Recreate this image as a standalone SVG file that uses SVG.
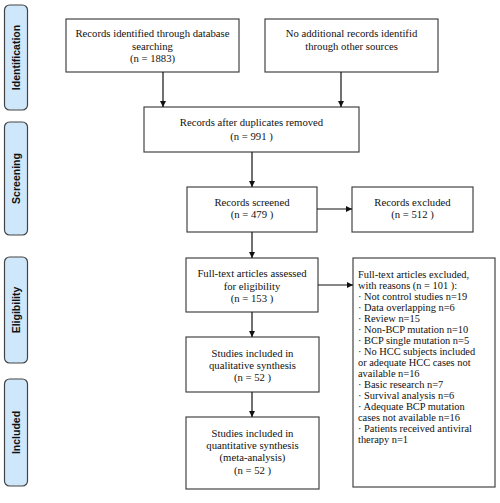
<svg xmlns="http://www.w3.org/2000/svg" width="500" height="503" viewBox="0 0 500 503">
<defs>
<marker id="ah" viewBox="0 0 10 10" refX="10" refY="5" markerWidth="6" markerHeight="6" markerUnits="userSpaceOnUse" orient="auto">
<path d="M0,0 L10,5 L0,10 z" fill="#111"/>
</marker>
<style>
.box{fill:#fff;stroke:#444;stroke-width:1.2}
.side{fill:#cfe7fb;stroke:#444;stroke-width:1.2}
.t{font-family:"Liberation Serif","Times New Roman",serif;font-size:10.7px;fill:#111;text-anchor:middle}
.l{font-family:"Liberation Serif","Times New Roman",serif;font-size:10.4px;fill:#111}
.s{font-family:"Liberation Sans",Arial,sans-serif;font-size:10.5px;font-weight:bold;fill:#111;text-anchor:middle}
.c{stroke:#111;stroke-width:1.2;fill:none;marker-end:url(#ah)}
</style>
</defs>
<rect width="500" height="503" fill="#fff"/>
<g id="side-identification"><rect class="side" x="4.5" y="5" width="23" height="105" rx="5"/><text class="s" transform="translate(20,57.5) rotate(-90)">Identification</text></g>
<g id="side-screening"><rect class="side" x="4.5" y="122" width="23" height="113" rx="5"/><text class="s" transform="translate(20,178.5) rotate(-90)">Screening</text></g>
<g id="side-eligibility"><rect class="side" x="4.5" y="257" width="23" height="106" rx="5"/><text class="s" transform="translate(20,310) rotate(-90)">Eligibility</text></g>
<g id="side-included"><rect class="side" x="4.5" y="379" width="23" height="107" rx="5"/><text class="s" transform="translate(20,432.5) rotate(-90)">Included</text></g>

<g id="n-identified"><rect class="box" x="66" y="19" width="173" height="53"/>
<text class="t" x="152.5" y="37">Records identified through database</text>
<text class="t" x="152.5" y="49.5">searching</text>
<text class="t" x="152.5" y="62">(n = 1883)</text></g>
<g id="n-other"><rect class="box" x="265" y="19" width="173" height="53"/>
<text class="t" x="351.5" y="37">No additional records identifid</text>
<text class="t" x="351.5" y="49.5">through other sources</text></g>
<g id="n-dup"><rect class="box" x="144" y="107" width="215" height="45"/>
<text class="t" x="251.5" y="126">Records after duplicates removed</text>
<text class="t" x="251.5" y="140">(n = 991 )</text></g>
<g id="n-screened"><rect class="box" x="187" y="187" width="130" height="45"/>
<text class="t" x="252" y="206">Records screened</text>
<text class="t" x="252" y="218">(n = 479 )</text></g>
<g id="n-excluded"><rect class="box" x="352" y="187" width="121" height="45"/>
<text class="t" x="412.5" y="206">Records excluded</text>
<text class="t" x="412.5" y="218">(n = 512 )</text></g>
<g id="n-fulltext"><rect class="box" x="186" y="258" width="132" height="54"/>
<text class="t" x="252" y="277">Full-text articles assessed</text>
<text class="t" x="252" y="289.5">for eligibility</text>
<text class="t" x="252" y="302">(n = 153 )</text></g>
<g id="n-ftexcluded"><rect class="box" x="353" y="258" width="142" height="229"/>
<text class="l" x="358" y="278">Full-text articles excluded,</text>
<text class="l" x="358" y="289">with reasons (n = 101 ):</text>
<text class="l" x="358" y="300">· Not control studies n=19</text>
<text class="l" x="358" y="311">· Data overlapping n=6</text>
<text class="l" x="358" y="322">· Review n=15</text>
<text class="l" x="358" y="333">· Non-BCP mutation n=10</text>
<text class="l" x="358" y="344">· BCP single mutation n=5</text>
<text class="l" x="358" y="355">· No HCC subjects included</text>
<text class="l" x="358" y="366">or adequate HCC cases not</text>
<text class="l" x="358" y="377">available n=16</text>
<text class="l" x="358" y="388">· Basic research n=7</text>
<text class="l" x="358" y="399">· Survival analysis n=6</text>
<text class="l" x="358" y="410">· Adequate BCP mutation</text>
<text class="l" x="358" y="421">cases not available n=16</text>
<text class="l" x="358" y="432">· Patients received antiviral</text>
<text class="l" x="358" y="443">therapy n=1</text></g>
<g id="n-qual"><rect class="box" x="186" y="337" width="133" height="55"/>
<text class="t" x="252.5" y="357">Studies included in</text>
<text class="t" x="252.5" y="369">qualitative synthesis</text>
<text class="t" x="252.5" y="381">(n = 52  )</text></g>
<g id="n-quant"><rect class="box" x="186" y="417" width="133" height="72"/>
<text class="t" x="252.5" y="437">Studies included in</text>
<text class="t" x="252.5" y="449">quantitative synthesis</text>
<text class="t" x="252.5" y="461">(meta-analysis)</text>
<text class="t" x="252.5" y="474">(n = 52 )</text></g>

<g id="connectors">
<line class="c" x1="163" y1="72" x2="163" y2="107"/>
<line class="c" x1="341" y1="72" x2="341" y2="107"/>
<line class="c" x1="252" y1="152" x2="252" y2="187"/>
<line class="c" x1="317" y1="209" x2="352" y2="209"/>
<line class="c" x1="252" y1="232" x2="252" y2="258"/>
<line class="c" x1="318" y1="285" x2="353" y2="285"/>
<line class="c" x1="252" y1="312" x2="252" y2="337"/>
<line class="c" x1="252" y1="392" x2="252" y2="417"/>
</g>
</svg>
